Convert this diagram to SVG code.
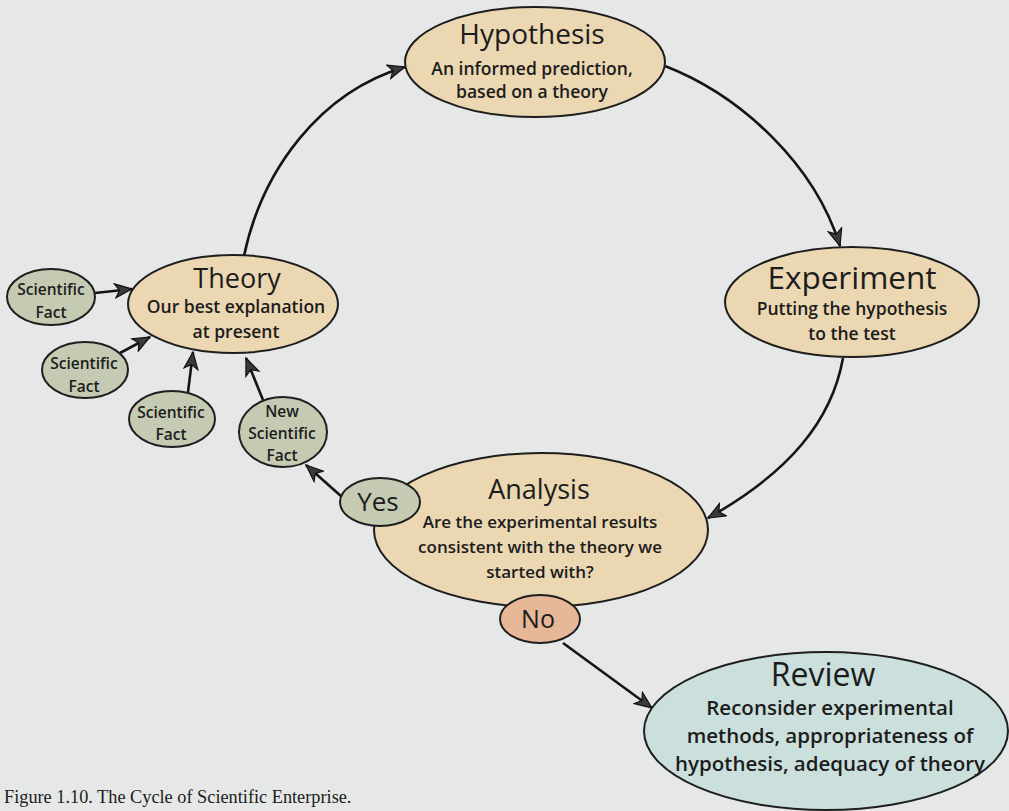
<svg xmlns="http://www.w3.org/2000/svg" width="1009" height="811" viewBox="0 0 1009 811">
  <style>
    .node { stroke: #1e1e1e; stroke-width: 2; }
    .main { fill: #ebd7b1; }
    .fact { fill: #c5cbb2; }
    .no { fill: #e6b897; }
    .review { fill: #cbe0dc; }
    .title { font-family: "Open Sans", "Liberation Sans", sans-serif; font-weight: 400; fill: #1c1c1c; text-anchor: middle; }
    .sub { font-family: "Open Sans", "Liberation Sans", sans-serif; font-weight: 600; fill: #1c1c1c; text-anchor: middle; }
    .edge { fill: none; stroke: #151515; stroke-width: 2.6; marker-end: url(#arrow); }
    .caption { font-family: "Liberation Serif", serif; font-size: 18.3px; fill: #1c1c1c; }
  </style>
  <defs>
    <marker id="arrow" markerUnits="userSpaceOnUse" markerWidth="22" markerHeight="18" refX="18" refY="8" orient="auto">
      <path d="M1,1 L18,8 L1,15 L5.5,8 Z" fill="#3a3a3a" stroke="#111" stroke-width="1.2" stroke-linejoin="miter"/>
    </marker>
  </defs>

  <rect width="1009" height="811" fill="#e5e8e7"/>

  <!-- connectors -->
  <g id="connectors">
    <path class="edge" d="M244 256 C262 170 320 92 405 67"/>
    <path class="edge" d="M665 66 C742 96 815 165 840 246"/>
    <path class="edge" d="M843 358 C832 420 790 472 708 518"/>
    <path class="edge" d="M95 293 L132 289"/>
    <path class="edge" d="M120 353 L150 337"/>
    <path class="edge" d="M188 392 L193 352"/>
    <path class="edge" d="M263 400 L246 358"/>
    <path class="edge" d="M342 497 L306 465"/>
    <path class="edge" d="M563 643 L652 708"/>
  </g>

  <g id="hypothesis">
    <ellipse class="node main" cx="535" cy="62" rx="130" ry="55"/>
    <text class="title" x="532" y="44" font-size="28">Hypothesis</text>
    <text class="sub" x="532" y="75" font-size="17.5">An informed prediction,</text>
    <text class="sub" x="532" y="98" font-size="17.5">based on a theory</text>
  </g>

  <g id="experiment">
    <ellipse class="node main" cx="852" cy="302" rx="127" ry="55"/>
    <text class="title" x="852" y="289" font-size="31.5">Experiment</text>
    <text class="sub" x="852" y="315" font-size="17.5">Putting the hypothesis</text>
    <text class="sub" x="852" y="340" font-size="17.5">to the test</text>
  </g>

  <g id="analysis">
    <ellipse class="node main" cx="541" cy="530" rx="167" ry="77"/>
    <text class="title" x="539" y="499" font-size="27">Analysis</text>
    <text class="sub" x="540" y="528" font-size="17">Are the experimental results</text>
    <text class="sub" x="540" y="553" font-size="17">consistent with the theory we</text>
    <text class="sub" x="540" y="578" font-size="17">started with?</text>
  </g>

  <g id="theory">
    <ellipse class="node main" cx="233" cy="304" rx="105" ry="49"/>
    <text class="title" x="237" y="288" font-size="27">Theory</text>
    <text class="sub" x="236" y="313" font-size="17.5">Our best explanation</text>
    <text class="sub" x="236" y="338" font-size="17.5">at present</text>
  </g>

  <g id="fact-1">
    <ellipse class="node fact" cx="51" cy="297" rx="44" ry="28"/>
    <text class="sub" x="51" y="295" font-size="15.5">Scientific</text>
    <text class="sub" x="51" y="318" font-size="15.5">Fact</text>
  </g>

  <g id="fact-2">
    <ellipse class="node fact" cx="85" cy="370" rx="43" ry="28"/>
    <text class="sub" x="84" y="369" font-size="15.5">Scientific</text>
    <text class="sub" x="84" y="392" font-size="15.5">Fact</text>
  </g>

  <g id="fact-3">
    <ellipse class="node fact" cx="172" cy="419" rx="43" ry="28"/>
    <text class="sub" x="171" y="418" font-size="15.5">Scientific</text>
    <text class="sub" x="171" y="440" font-size="15.5">Fact</text>
  </g>

  <g id="new-fact">
    <ellipse class="node fact" cx="283" cy="432" rx="44" ry="35"/>
    <text class="sub" x="282" y="417" font-size="15.5">New</text>
    <text class="sub" x="282" y="439" font-size="15.5">Scientific</text>
    <text class="sub" x="282" y="461" font-size="15.5">Fact</text>
  </g>

  <g id="yes">
    <ellipse class="node fact" cx="380" cy="502" rx="40" ry="24"/>
    <text class="title" x="378" y="511" font-size="26">Yes</text>
  </g>

  <g id="no">
    <ellipse class="node no" cx="540" cy="619" rx="40" ry="24"/>
    <text class="title" x="538" y="628" font-size="25">No</text>
  </g>

  <g id="review">
    <ellipse class="node review" cx="826" cy="731" rx="182" ry="79"/>
    <text class="title" x="823" y="686" font-size="32">Review</text>
    <text class="sub" x="830" y="715" font-size="20.5">Reconsider experimental</text>
    <text class="sub" x="830" y="743" font-size="20.5">methods, appropriateness of</text>
    <text class="sub" x="830" y="771" font-size="20.5">hypothesis, adequacy of theory</text>
  </g>

  <text class="caption" x="4" y="803">Figure 1.10. The Cycle of Scientific Enterprise.</text>
</svg>
